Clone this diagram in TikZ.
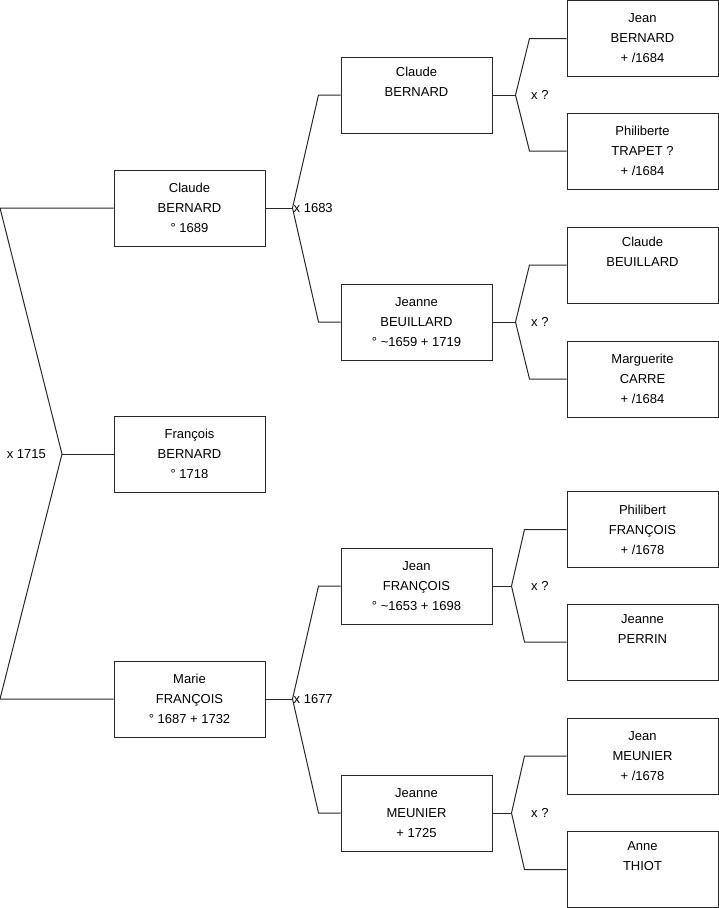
\documentclass[tikz,border=0pt]{standalone}
\usepackage{fontspec}
\setmainfont{Liberation Sans}
\usepackage{tikz}
\usetikzlibrary{positioning}
\usepackage{xcolor}
\definecolor{TreeLine}{RGB}{40,40,40}

\begin{document}
\begin{tikzpicture}[
x=1pt,y=-1pt,
person/.style={rectangle,draw=TreeLine,line width=1pt,fill=white,
minimum width=151pt,minimum height=76pt,inner sep=0pt,align=center,
font=\fontsize{13}{20}\selectfont},
link/.style={draw=TreeLine,line width=1pt},
wed/.style={inner sep=1pt,font=\fontsize{13}{15}\selectfont}
]
\useasboundingbox (0,0) rectangle (719,908);
% generation 1
\node[person] (claude) at (189.5,208) {Claude\\BERNARD\\° 1689};
\node[person] (francois) at (189.5,454) {François\\BERNARD\\° 1718};
\node[person] (marie) at (189.5,699) {Marie\\FRANÇOIS\\° 1687 + 1732};
% generation 2
\node[person] (claudeP) at (416.5,95) {Claude\\BERNARD\\\strut};
\node[person] (jeanneB) at (416.5,322) {Jeanne\\BEUILLARD\\° \textasciitilde1659 + 1719};
\node[person] (jeanF) at (416.5,586) {Jean\\FRANÇOIS\\° \textasciitilde1653 + 1698};
\node[person] (jeanneM) at (416.5,813) {Jeanne\\MEUNIER\\+ 1725};
% generation 3
\node[person] (jeanB) at (642.5,38.5) {Jean\\BERNARD\\+ /1684};
\node[person] (philiberte) at (642.5,151) {Philiberte\\TRAPET ?\\+ /1684};
\node[person] (claudeBe) at (642.5,265) {Claude\\BEUILLARD\\\strut};
\node[person] (marguerite) at (642.5,379) {Marguerite\\CARRE\\+ /1684};
\node[person] (philibert) at (642.5,529.5) {Philibert\\FRANÇOIS\\+ /1678};
\node[person] (jeanneP) at (642.5,642) {Jeanne\\PERRIN\\\strut};
\node[person] (jeanMe) at (642.5,756) {Jean\\MEUNIER\\+ /1678};
\node[person] (anne) at (642.5,869.5) {Anne\\THIOT\\\strut};

% marriage of the parents
\coordinate (m0) at (62,454);
\draw[link] (claude.west) -- (0,208) -- (m0) -- (0,699) -- (marie.west);
\draw[link] (francois.west) -- (m0);
\node[wed,anchor=east] (w0) at (47,454) {x 1715};

% parents of Claude
\draw[link] (claude.east) -- ++(27,0) coordinate (m1);
\draw[link] (claudeP.west) -- ++(-22,0) -- (m1);
\draw[link] (jeanneB.west) -- ++(-22,0) -- (m1);
\node[wed,anchor=west] (w1) at (m1) {x 1683};

% parents of Marie
\draw[link] (marie.east) -- ++(27,0) coordinate (m2);
\draw[link] (jeanF.west) -- ++(-22,0) -- (m2);
\draw[link] (jeanneM.west) -- ++(-22,0) -- (m2);
\node[wed,anchor=west] (w2) at (m2) {x 1677};

% grandparents
\draw[link] (claudeP.east) -- ++(23,0) coordinate (m3);
\draw[link] (jeanB.west) -- ++(-37,0) -- (m3);
\draw[link] (philiberte.west) -- ++(-37,0) -- (m3);
\node[wed,anchor=west] (w3) at (530,95) {x ?};

\draw[link] (jeanneB.east) -- ++(23,0) coordinate (m4);
\draw[link] (claudeBe.west) -- ++(-37,0) -- (m4);
\draw[link] (marguerite.west) -- ++(-37,0) -- (m4);
\node[wed,anchor=west] (w4) at (530,322) {x ?};

\draw[link] (jeanF.east) -- ++(19,0) coordinate (m5);
\draw[link] (philibert.west) -- ++(-42,0) -- (m5);
\draw[link] (jeanneP.west) -- ++(-42,0) -- (m5);
\node[wed,anchor=west] (w5) at (530,586) {x ?};

\draw[link] (jeanneM.east) -- ++(19,0) coordinate (m6);
\draw[link] (jeanMe.west) -- ++(-42,0) -- (m6);
\draw[link] (anne.west) -- ++(-42,0) -- (m6);
\node[wed,anchor=west] (w6) at (530,813) {x ?};
\end{tikzpicture}
\end{document}
